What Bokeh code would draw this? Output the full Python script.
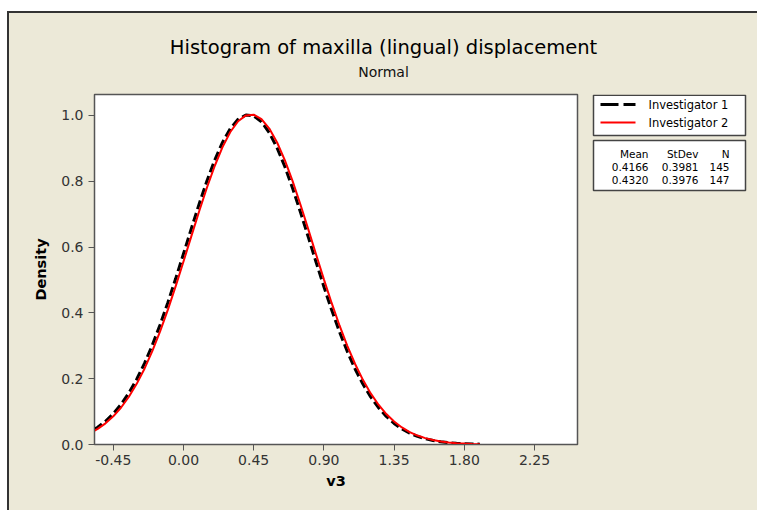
from bokeh.plotting import figure
from bokeh.layouts import column, row
from bokeh.models import Spacer, Range1d, FixedTicker, NumeralTickFormatter
from bokeh.core.properties import value
from bokeh.embed import file_html
from bokeh.resources import INLINE

# ---------------- data ----------------
title_text = "Histogram of maxilla (lingual) displacement"
subtitle_text = "Normal"
x_label = "v3"
y_label = "Density"

x_values = [-0.57, -0.55, -0.50, -0.45, -0.40, -0.35, -0.30, -0.25, -0.20, -0.15,
            -0.10, -0.05, 0.00, 0.05, 0.10, 0.15, 0.20, 0.25, 0.30, 0.35,
            0.40, 0.45, 0.50, 0.55, 0.60, 0.65, 0.70, 0.75, 0.80, 0.85,
            0.90, 0.95, 1.00, 1.05, 1.10, 1.15, 1.20, 1.25, 1.30, 1.35,
            1.40, 1.45, 1.50, 1.55, 1.60, 1.65, 1.70, 1.75, 1.80, 1.85, 1.90]

inv1_density = [0.0465, 0.0526, 0.0707, 0.0938, 0.1222, 0.1569, 0.1983, 0.2467, 0.3020, 0.3640,
                0.4318, 0.5042, 0.5796, 0.6558, 0.7304, 0.8008, 0.8642, 0.9181, 0.9600, 0.9882,
                1.0012, 0.9986, 0.9804, 0.9474, 0.9012, 0.8439, 0.7778, 0.7057, 0.6302, 0.5540,
                0.4795, 0.4084, 0.3424, 0.2826, 0.2296, 0.1836, 0.1445, 0.1120, 0.0854, 0.0641,
                0.0474, 0.0345, 0.0247, 0.0174, 0.0121, 0.0083, 0.0056, 0.0037, 0.0024, 0.0015, 0.0010]

inv2_density = [0.0419, 0.0475, 0.0643, 0.0857, 0.1124, 0.1450, 0.1843, 0.2304, 0.2837, 0.3437,
                0.4099, 0.4812, 0.5561, 0.6325, 0.7081, 0.7803, 0.8463, 0.9036, 0.9496, 0.9823,
                1.0001, 1.0024, 0.9888, 0.9602, 0.9177, 0.8634, 0.7995, 0.7287, 0.6538, 0.5774,
                0.5019, 0.4294, 0.3617, 0.2998, 0.2446, 0.1965, 0.1553, 0.1209, 0.0926, 0.0698,
                0.0518, 0.0378, 0.0272, 0.0193, 0.0134, 0.0092, 0.0062, 0.0041, 0.0027, 0.0017, 0.0011]

series_names = ["Investigator 1", "Investigator 2"]
stat_headers = ["Mean", "StDev", "N"]
means = ["0.4166", "0.4320"]
stdevs = ["0.3981", "0.3976"]
counts = ["145", "147"]

x_ticks = [-0.45, 0.00, 0.45, 0.90, 1.35, 1.80, 2.25]
y_ticks = [0.0, 0.2, 0.4, 0.6, 0.8, 1.0]

# ---------------- styling ----------------
BG = "#ECE9D8"
AXC = "#555555"
FONT = "DejaVu Sans"

# Title panel
pt = figure(width=748, height=80, x_range=Range1d(0, 748), y_range=Range1d(80, 0),
            output_backend="svg", toolbar_location=None, min_border=0,
            background_fill_color=BG, border_fill_color=BG)
pt.axis.visible = False
pt.grid.visible = False
pt.outline_line_color = None
pt.text(x=[374], y=[34], text=[title_text], text_align="center", text_baseline="middle",
        text_font=value(FONT), text_font_size="19.5px", text_color="black")
pt.text(x=[374], y=[58], text=[subtitle_text], text_align="center", text_baseline="middle",
        text_font=value(FONT), text_font_size="14px", text_color="#111111")

# Main plot
p = figure(width=576, height=417, x_range=Range1d(-0.5705, 2.5256), y_range=Range1d(0, 1.0636),
           output_backend="svg", toolbar_location=None,
           min_border_left=85, min_border_right=8, min_border_top=1, min_border_bottom=66,
           background_fill_color="white", border_fill_color=BG)
p.grid.visible = False
p.outline_line_color = AXC
p.outline_line_width = 1.5

p.xaxis.ticker = FixedTicker(ticks=x_ticks)
p.yaxis.ticker = FixedTicker(ticks=y_ticks)
p.xaxis.formatter = NumeralTickFormatter(format="0.00")
p.yaxis.formatter = NumeralTickFormatter(format="0.0")
for ax in (p.xaxis, p.yaxis):
    ax.axis_line_color = AXC
    ax.major_tick_line_color = AXC
    ax.minor_tick_line_color = None
    ax.major_tick_in = 0
    ax.major_tick_out = 6
    ax.major_label_text_font = FONT
    ax.major_label_text_font_size = "14px"
    ax.major_label_text_color = "#333333"
    ax.axis_label_text_font = FONT
    ax.axis_label_text_font_size = "14.5px"
    ax.axis_label_text_font_style = "bold"
    ax.axis_label_text_color = "black"
p.xaxis.axis_label = x_label
p.yaxis.axis_label = y_label
p.xaxis.major_label_standoff = 4
p.yaxis.major_label_standoff = 5
p.xaxis.axis_label_standoff = 5
p.yaxis.axis_label_standoff = 9

p.line(x_values, inv1_density, line_color="black", line_width=3, line_dash="9 4")
p.line(x_values, inv2_density, line_color="#FF0000", line_width=2)

# Legend / stats panel (frame aligned with the main plot frame: 350 px tall)
pl = figure(width=172, height=417, x_range=Range1d(0, 172), y_range=Range1d(350, 0),
            output_backend="svg", toolbar_location=None,
            min_border_left=0, min_border_right=0, min_border_top=1, min_border_bottom=66,
            background_fill_color=BG, border_fill_color=BG)
pl.axis.visible = False
pl.grid.visible = False
pl.outline_line_color = None

pl.quad(left=[8], right=[160], top=[0.75], bottom=[41], fill_color="white",
        line_color="#444444", line_width=1.5)
pl.quad(left=[8], right=[160], top=[46], bottom=[96], fill_color="white",
        line_color="#444444", line_width=1.5)

pl.line([15, 50], [10, 10], line_color="black", line_width=3, line_dash="18 5")
pl.line([15, 50], [28, 28], line_color="#FF0000", line_width=2)
pl.text(x=[63, 63], y=[10, 28], text=series_names, text_align="left", text_baseline="middle",
        text_font=value(FONT), text_font_size="11.5px", text_color="black")

col_x = [63, 113, 144]
pl.text(x=col_x, y=[59, 59, 59], text=stat_headers, text_align="right", text_baseline="middle",
        text_font=value(FONT), text_font_size="10.5px", text_color="black")
for i in range(2):
    yy = 72 + 13 * i
    pl.text(x=col_x, y=[yy, yy, yy], text=[means[i], stdevs[i], counts[i]],
            text_align="right", text_baseline="middle",
            text_font=value(FONT), text_font_size="10.5px", text_color="black")

inner = column(pt, row(p, pl, spacing=0), spacing=0, styles={"background-color": BG})
framed = column(
    Spacer(width=750, height=2, styles={"background-color": "#333333"}),
    row(Spacer(width=2, height=497, styles={"background-color": "#333333"}), inner, spacing=0),
    spacing=0,
)
layout = column(
    Spacer(width=757, height=11),
    row(Spacer(width=7, height=499), framed, spacing=0),
    spacing=0,
)

open("out.html", "w").write(file_html(layout, INLINE))
